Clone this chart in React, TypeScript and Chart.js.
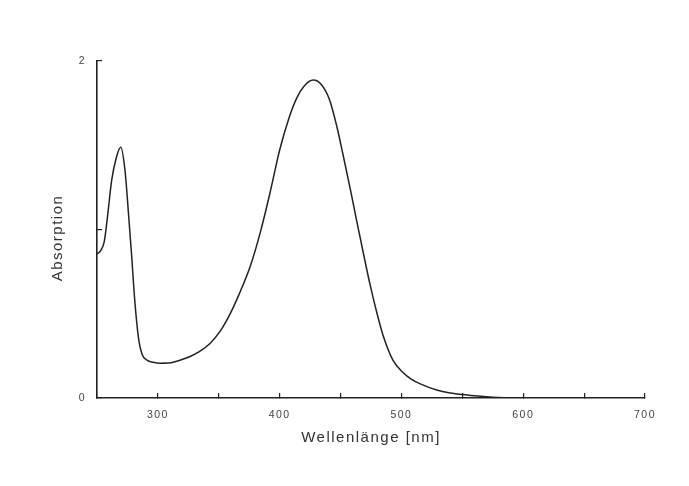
import React, { useEffect, useRef } from "react";
import { Chart, registerables } from "chart.js";

Chart.register(...registerables);

const wavelengths = [
  250, 253, 256, 259, 262, 266, 269.5, 273, 276, 278.5, 281, 284, 287, 291, 296, 302, 308, 318, 326, 334,
  343, 351, 359, 367, 376, 384, 392, 400, 408, 414, 420, 427.5, 434, 441, 447, 452, 458, 463, 469, 474,
  480, 485, 493, 501.5, 508, 515, 529, 540, 554, 565, 575, 585, 595,
];
const absorbance = [
  0.855, 0.875, 0.93, 1.1, 1.29, 1.43, 1.488, 1.35, 1.08, 0.84, 0.58, 0.36, 0.26, 0.225, 0.212, 0.206, 0.207, 0.224, 0.245, 0.275,
  0.325, 0.395, 0.495, 0.621, 0.785, 0.98, 1.215, 1.472, 1.669, 1.78, 1.85, 1.887, 1.862, 1.769, 1.61, 1.445, 1.24, 1.06, 0.85, 0.68,
  0.5, 0.37, 0.225, 0.15, 0.112, 0.085, 0.047, 0.03, 0.018, 0.01, 0.005, 0.002, 0.0,
];
const xLabeledTicks = [300, 400, 500, 600, 700];
const yLabeledTicks = [0, 2];
const xTitle = "Wellenlänge [nm]";
const yTitle = "Absorption   ";

export default function App() {
  const ref = useRef<HTMLCanvasElement>(null);
  useEffect(() => {
    document.body.style.margin = "0";
    const canvas = ref.current!;
    const spacing = {
      id: "spacing",
      beforeDraw(chart: any) {
        (chart.ctx as any).letterSpacing = "1.5px";
      },
    };
    const tickFont = { family: "'Liberation Sans', Arial, sans-serif", size: 10.5 };
    const titleFont = { family: "'Liberation Sans', Arial, sans-serif", size: 15 };
    const chart = new Chart(canvas, {
      type: "line",
      data: {
        datasets: [
          {
            data: wavelengths.map((w, i) => ({ x: w, y: absorbance[i] })),
            borderColor: "#222",
            borderWidth: 1.5,
            pointRadius: 0,
            fill: false,
            cubicInterpolationMode: "monotone",
          },
        ],
      },
      options: {
        animation: false,
        responsive: false,
        layout: { padding: { top: 61, right: 44, left: 0, bottom: 0 } },
        plugins: { legend: { display: false }, tooltip: { enabled: false } },
        scales: {
          x: {
            type: "linear",
            min: 250,
            max: 700,
            border: { display: true, color: "#222", width: 1.6 },
            grid: { drawOnChartArea: false, drawTicks: true, tickLength: -5, color: "#222", lineWidth: 1.2 },
            ticks: {
              stepSize: 50,
              padding: 16,
              color: "#444",
              font: tickFont,
              maxRotation: 0,
              autoSkip: false,
              callback: (v: any) => (xLabeledTicks.includes(Number(v)) ? String(v) : ""),
            },
            title: { display: true, text: xTitle, color: "#333", font: titleFont, padding: { top: 0, bottom: 39 } },
            afterFit: (s: any) => {
              s.height = 88;
            },
          },
          y: {
            type: "linear",
            min: 0,
            max: 2,
            border: { display: true, color: "#222", width: 1.6 },
            grid: { drawOnChartArea: false, drawTicks: true, tickLength: -5, color: "#222", lineWidth: 1.2 },
            ticks: {
              stepSize: 1,
              padding: 16,
              color: "#444",
              font: tickFont,
              callback: (v: any) => (yLabeledTicks.includes(Number(v)) ? String(v) : ""),
            },
            title: { display: true, text: yTitle, color: "#333", font: titleFont, padding: { top: 49, bottom: 0 } },
            afterFit: (s: any) => {
              s.width = 97;
            },
          },
        },
      },
      plugins: [spacing],
    } as any);
    return () => chart.destroy();
  }, []);
  return <canvas ref={ref} width={689} height={486} style={{ display: "block" }} />;
}
